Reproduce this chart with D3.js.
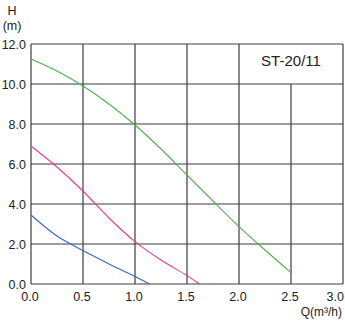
<!DOCTYPE html>
<html><head><meta charset="utf-8">
<script src="https://cdn.jsdelivr.net/npm/d3@7"></script>
<style>body{margin:0;background:#fff;}svg{display:block;font-family:"Liberation Sans",Arial,sans-serif;}</style>
</head><body>
<svg id="c" width="345" height="321"></svg>
<script>
const xTicks = [0, 0.5, 1.0, 1.5, 2.0, 2.5, 3.0];
const yTicks = [0, 2, 4, 6, 8, 10, 12];
const greenQ = [0, 0.25, 0.5, 0.75, 1.0, 1.25, 1.5, 1.75, 2.0, 2.25, 2.5];
const greenH = [11.25, 10.65, 9.9, 9.0, 7.95, 6.75, 5.45, 4.15, 2.87, 1.7, 0.57];
const pinkQ = [0, 0.25, 0.5, 0.75, 1.0, 1.25, 1.5, 1.62];
const pinkH = [6.9, 5.85, 4.65, 3.3, 2.12, 1.2, 0.42, 0];
const blueQ = [0, 0.25, 0.5, 0.75, 1.0, 1.14];
const blueH = [3.45, 2.4, 1.67, 1.0, 0.37, 0];
const title = "ST-20/11";

const svg = d3.select("#c");
const x = d3.scaleLinear().domain([0, 3]).range([31, 343]);
const y = d3.scaleLinear().domain([0, 12]).range([284, 44]);
const grid = "#3c3c3c";

svg.append("g").selectAll("line").data(yTicks).join("line")
  .attr("x1", x(0)).attr("x2", x(3))
  .attr("y1", d => y(d)).attr("y2", d => y(d))
  .attr("stroke", grid).attr("stroke-width", 1.2);
svg.append("g").selectAll("line").data(xTicks).join("line")
  .attr("x1", d => x(d)).attr("x2", d => x(d))
  .attr("y1", y(0)).attr("y2", d => d === 2.5 ? y(10) : y(12))
  .attr("stroke", grid).attr("stroke-width", 1.2);

svg.append("g").selectAll("text").data(yTicks).join("text")
  .attr("x", 26).attr("y", d => y(d) + 4.5)
  .attr("text-anchor", "end").attr("font-size", 12.5).attr("fill", "#222")
  .text(d => d3.format(".1f")(d));
svg.append("g").selectAll("text").data(xTicks).join("text")
  .attr("x", (d, i) => i === xTicks.length - 1 ? 344 : x(d) - 1).attr("y", 301)
  .attr("text-anchor", (d, i) => i === xTicks.length - 1 ? "end" : "middle")
  .attr("font-size", 12.5).attr("fill", "#222")
  .text(d => d3.format(".1f")(d));

svg.append("text").attr("x", 12).attr("y", 15).attr("text-anchor", "middle")
  .attr("font-size", 12.5).attr("fill", "#222").text("H");
svg.append("text").attr("x", 12).attr("y", 30).attr("text-anchor", "middle")
  .attr("font-size", 12.5).attr("fill", "#222").text("(m)");
svg.append("text").attr("x", 342).attr("y", 316).attr("text-anchor", "end")
  .attr("font-size", 12).attr("fill", "#222").text("Q(m³/h)");

svg.append("text").attr("x", (x(2) + x(3)) / 2).attr("y", 66).attr("text-anchor", "middle")
  .attr("font-size", 15).attr("fill", "#222").text(title);

const line = d3.line().x(d => x(d[0])).y(d => y(d[1])).curve(d3.curveCatmullRom.alpha(0.5));
const series = [
  {q: greenQ, h: greenH, c: "#4fb04a"},
  {q: pinkQ, h: pinkH, c: "#e23a96"},
  {q: blueQ, h: blueH, c: "#3a68c4"}
];
series.forEach(s => {
  svg.append("path").datum(s.q.map((q, i) => [q, s.h[i]]))
    .attr("d", line).attr("fill", "none").attr("stroke", s.c).attr("stroke-width", 1.1);
});
</script>
</body></html>
